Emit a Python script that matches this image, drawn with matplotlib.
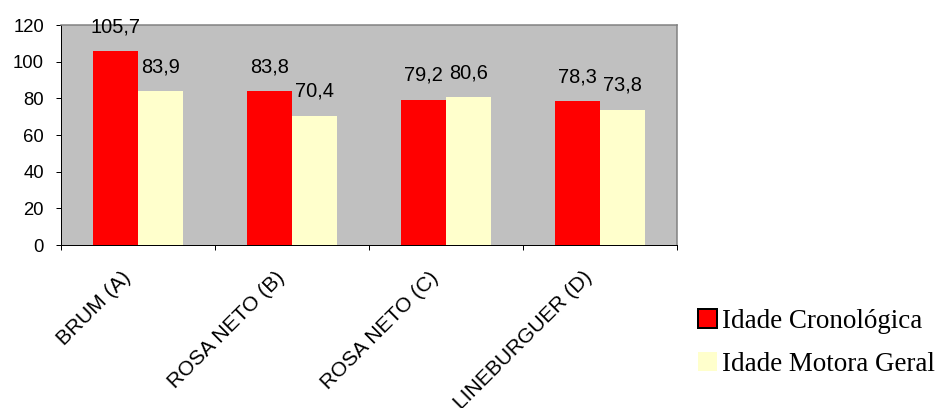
import matplotlib
matplotlib.use("Agg")
import matplotlib.pyplot as plt
import matplotlib.transforms as mtransforms
import numpy as np

categories = ["BRUM (A)", "ROSA NETO (B)", "ROSA NETO (C)", "LINEBURGUER (D)"]
idade_cronologica = [105.7, 83.8, 79.2, 78.3]
idade_motora = [83.9, 70.4, 80.6, 73.8]
series_names = ["Idade Cronológica", "Idade Motora Geral"]

x = np.arange(len(categories))
width = 0.29

fig = plt.figure(figsize=(13, 408 / 72), dpi=72)
ax = fig.add_axes([61 / 936, 1 - 245 / 408, 616 / 936, 220 / 408])
ax.set_facecolor("#C0C0C0")

r1 = ax.bar(x - width / 2, idade_cronologica, width, color="#FF0000")
r2 = ax.bar(x + width / 2, idade_motora, width, color="#FFFFCC")

# value labels above each bar, decimal comma
for rects, vals in ((r1, idade_cronologica), (r2, idade_motora)):
    for rect, v in zip(rects, vals):
        ax.annotate(f"{v:.1f}".replace(".", ","),
                    (rect.get_x() + rect.get_width() / 2, v),
                    xytext=(0, 15), textcoords="offset points",
                    ha="center", va="bottom", fontsize=20,
                    family="Liberation Sans", annotation_clip=False)

ax.set_xlim(-0.5, len(categories) - 0.5)
ax.set_ylim(0, 120)
ax.set_yticks(np.arange(0, 121, 20))
ax.tick_params(axis="y", length=5, width=1, pad=12, labelsize=18.5)
for lbl in ax.get_yticklabels():
    lbl.set_family("Liberation Sans")

ax.set_xticks(x)
ax.set_xticklabels(categories, rotation=45, ha="right", va="top",
                   rotation_mode="anchor", fontsize=21, family="Liberation Sans")
ax.tick_params(axis="x", which="major", length=0, pad=23)
shift = mtransforms.ScaledTranslation(-17 / 72, 0, fig.dpi_scale_trans)
for lbl in ax.get_xticklabels():
    lbl.set_transform(lbl.get_transform() + shift)
ax.set_xticks(np.arange(len(categories) + 1) - 0.5, minor=True)
ax.tick_params(axis="x", which="minor", length=5, width=1)

for side in ("top", "right"):
    ax.spines[side].set_color("#808080")
    ax.spines[side].set_linewidth(1.5)
for side in ("left", "bottom"):
    ax.spines[side].set_color("black")
    ax.spines[side].set_linewidth(1)

h1 = plt.Rectangle((0, 0), 1, 1, facecolor="#FF0000", edgecolor="black", linewidth=2)
h2 = plt.Rectangle((0, 0), 1, 1, facecolor="#FFFFCC", edgecolor="none")
fig.legend([h1, h2], series_names, loc="center left",
           bbox_to_anchor=(698 / 936, 1 - 343 / 408), frameon=False,
           prop={"family": "Liberation Serif", "size": 27},
           handlelength=0.7, handleheight=0.7, handletextpad=0.2,
           labelspacing=0.65, borderpad=0, borderaxespad=0)

fig.savefig("out.png", dpi=72)
